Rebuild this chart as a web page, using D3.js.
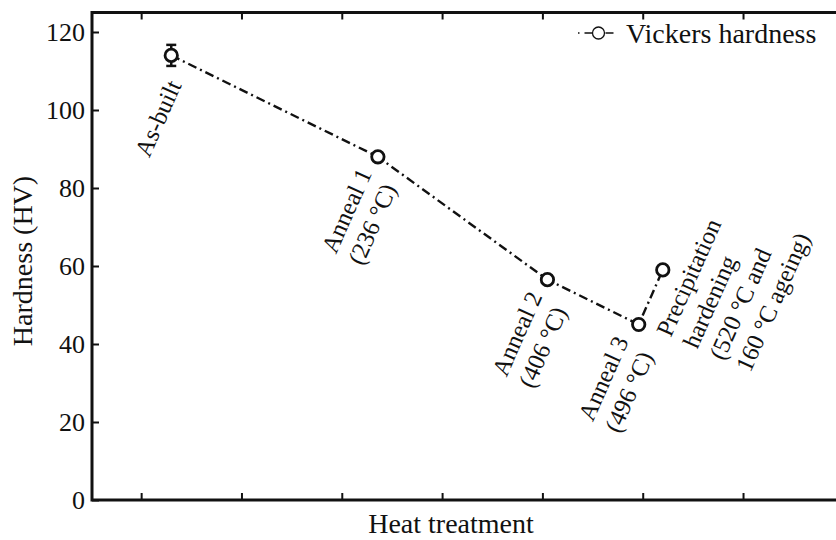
<!DOCTYPE html>
<html>
<head>
<meta charset="utf-8">
<script src="https://cdn.jsdelivr.net/npm/d3@7/dist/d3.min.js"></script>
<style>
  html, body { margin: 0; padding: 0; background: #fff; }
  svg { display: block; }
</style>
</head>
<body>
<svg id="chart" width="836" height="540"></svg>
<script>
(function () {
// ---- data ----
const categories = ["As-built", "Anneal 1", "Anneal 2", "Anneal 3", "Precipitation hardening"];
const xPositions = [1.30, 3.36, 5.05, 5.96, 6.20];
const hardness = [114, 88, 56.5, 45, 59];
const errors = [2.7, 0.6, 0.6, 0.6, 0.6];
const labelLines = [
  ["As-built"],
  ["Anneal 1", "(236 °C)"],
  ["Anneal 2", "(406 °C)"],
  ["Anneal 3", "(496 °C)"],
  ["Precipitation", "hardening", "(520 °C and", "160 °C ageing)"]
];
const labelOffsets = [[-22, 103], [-42, 98], [-41, 98], [-46, 98], [8, 68]];
const yTicks = [0, 20, 40, 60, 80, 100, 120];
const xTicks = [1, 2, 3, 4, 5, 6, 7, 8];
const seriesName = "Vickers hardness";
const xLabel = "Heat treatment";
const yLabel = "Hardness (HV)";

const FONT = "'Liberation Serif', Tinos, 'Times New Roman', Times, 'DejaVu Serif', serif";

// ---- layout ----
const mLeft = 92, mRight = 893.5, mTop = 12.5, mBottom = 500;
const svg = d3.select("#chart");
const x = d3.scaleLinear().domain([0.51, 8.5]).range([mLeft, mRight]);
const y = d3.scaleLinear().domain([0, 125]).range([mBottom, mTop]);

const data = categories.map((c, i) => ({
  c, x: xPositions[i], v: hardness[i], e: errors[i], lines: labelLines[i], off: labelOffsets[i]
}));

const axisColor = "#111";
const yAx = svg.append("g").attr("transform", `translate(${mLeft},0)`)
  .call(d3.axisLeft(y).tickValues(yTicks).tickSize(-7).tickPadding(7).tickFormat(d3.format("d")));
yAx.select(".domain").remove();
yAx.attr("font-family", null).attr("font-size", null);
yAx.selectAll(".tick line").attr("stroke", axisColor).attr("stroke-width", 2);
yAx.selectAll(".tick text").style("font-size", "26px").attr("fill", axisColor)
  .style("font-family", FONT);

const xAx = svg.append("g").attr("transform", `translate(0,${mBottom})`)
  .call(d3.axisBottom(x).tickValues(xTicks).tickSize(-7).tickFormat(""));
xAx.select(".domain").remove();
xAx.selectAll(".tick line").attr("stroke", axisColor).attr("stroke-width", 2);

const xAxTop = svg.append("g").attr("transform", `translate(0,${mTop})`)
  .call(d3.axisTop(x).tickValues(xTicks).tickSize(-7).tickFormat(""));
xAxTop.select(".domain").remove();
xAxTop.selectAll(".tick line").attr("stroke", axisColor).attr("stroke-width", 2);

svg.append("rect").attr("x", mLeft).attr("y", mTop)
  .attr("width", mRight - mLeft).attr("height", mBottom - mTop)
  .attr("fill", "none").attr("stroke", axisColor).attr("stroke-width", 3);

svg.append("text").attr("x", 451).attr("y", 533).attr("text-anchor", "middle")
  .style("font-family", FONT).style("font-size", "28px").attr("fill", "#111").text(xLabel);
svg.append("text").attr("transform", `translate(32,261) rotate(-90)`)
  .attr("text-anchor", "middle").style("font-family", FONT).style("font-size", "28px")
  .attr("fill", "#111").text(yLabel);

const line = d3.line().x(d => x(d.x)).y(d => y(d.v));
svg.append("path").datum(data).attr("d", line)
  .attr("fill", "none").attr("stroke", "#111").attr("stroke-width", 2.4)
  .attr("stroke-dasharray", "9,4,2,4");

const eb = svg.append("g").attr("stroke", "#111").attr("stroke-width", 2.5);
data.forEach(d => {
  eb.append("line").attr("x1", x(d.x)).attr("x2", x(d.x)).attr("y1", y(d.v - d.e)).attr("y2", y(d.v + d.e));
  [d.v - d.e, d.v + d.e].forEach(v => {
    eb.append("line").attr("x1", x(d.x) - 5).attr("x2", x(d.x) + 5).attr("y1", y(v)).attr("y2", y(v));
  });
});

svg.append("g").selectAll("circle").data(data).join("circle")
  .attr("cx", d => x(d.x)).attr("cy", d => y(d.v)).attr("r", 6.2)
  .attr("fill", "#fff").attr("stroke", "#111").attr("stroke-width", 2.8);

data.forEach(d => {
  const ax = x(d.x) + d.off[0], ay = y(d.v) + d.off[1];
  const t = svg.append("text").attr("transform", `translate(${ax},${ay}) rotate(-66)`)
    .style("font-family", FONT).style("font-size", "24.5px").attr("fill", "#111");
  d.lines.forEach((ln, i) => {
    t.append("tspan").attr("x", 0).attr("y", i * 29).text(ln);
  });
});

const lg = svg.append("g");
lg.append("line").attr("x1", 578).attr("x2", 618).attr("y1", 33).attr("y2", 33)
  .attr("stroke", "#111").attr("stroke-width", 1.5).attr("stroke-dasharray", "1.5,5,8,13,8,5,1.5");
lg.append("circle").attr("cx", 598.5).attr("cy", 33).attr("r", 6)
  .attr("fill", "#fff").attr("stroke", "#111").attr("stroke-width", 1.3);
lg.append("text").attr("x", 626).attr("y", 43).style("font-family", FONT).style("font-size", "28px")
  .attr("fill", "#111").text(seriesName);
})();
</script>
</body>
</html>
